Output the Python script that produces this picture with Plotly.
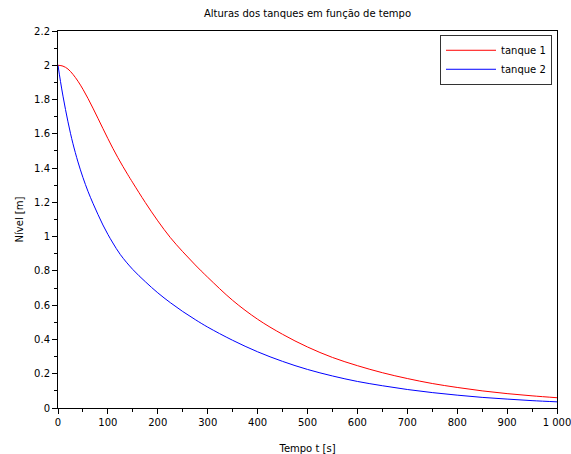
import plotly.graph_objects as go

t1 = [0, 10, 20, 30, 40, 50, 60, 70, 80, 90, 100, 110, 120, 130, 140, 150, 175, 200, 225,
      250, 275, 300, 350, 400, 450, 500, 550, 600, 650, 700, 750, 800, 850, 900, 950, 1000]
tanque1 = [2.0, 1.995, 1.978, 1.947, 1.907, 1.86, 1.807, 1.75, 1.691, 1.631, 1.572, 1.515,
           1.461, 1.41, 1.361, 1.314, 1.199, 1.092, 0.995, 0.912, 0.835, 0.763, 0.628,
           0.518, 0.43, 0.356, 0.295, 0.247, 0.206, 0.172, 0.143, 0.12, 0.1, 0.084, 0.071,
           0.06]

t2 = [0, 5, 10, 15, 20, 25, 30, 40, 50, 60, 70, 80, 90, 100, 110, 125, 150, 175, 200, 225,
      250, 275, 300, 350, 400, 450, 500, 550, 600, 650, 700, 750, 800, 850, 900, 950, 1000]
tanque2 = [2.0, 1.905, 1.82, 1.742, 1.67, 1.603, 1.542, 1.436, 1.345, 1.265, 1.195, 1.13,
           1.068, 1.013, 0.963, 0.895, 0.808, 0.737, 0.672, 0.615, 0.563, 0.516, 0.472,
           0.395, 0.328, 0.272, 0.225, 0.187, 0.155, 0.13, 0.108, 0.09, 0.075, 0.062, 0.052,
           0.043, 0.036]

x_ticks = [0, 100, 200, 300, 400, 500, 600, 700, 800, 900, 1000]
x_labels = ["0", "100", "200", "300", "400", "500", "600", "700", "800", "900", "1 000"]
y_ticks = [0, 0.2, 0.4, 0.6, 0.8, 1.0, 1.2, 1.4, 1.6, 1.8, 2.0, 2.2]
y_labels = ["0", "0.2", "0.4", "0.6", "0.8", "1", "1.2", "1.4", "1.6", "1.8", "2", "2.2"]

font = "DejaVu Sans, Verdana, sans-serif"

fig = go.Figure()
fig.add_trace(go.Scatter(x=t1, y=tanque1, mode="lines", name="tanque 1",
                         line=dict(color="#ff0000", width=1, shape="spline")))
fig.add_trace(go.Scatter(x=t2, y=tanque2, mode="lines", name="tanque 2",
                         line=dict(color="#0000ff", width=1, shape="spline")))

fig.update_layout(
    width=571, height=454,
    margin=dict(l=58, r=14, t=31, b=46),
    paper_bgcolor="white", plot_bgcolor="white",
    font=dict(family=font, size=10, color="black"),
    title=dict(text="Alturas dos tanques em função de tempo", x=0.5, xref="paper",
               xanchor="center", y=1 - 13 / 454, yref="container", yanchor="middle",
               font=dict(family=font, size=10, color="black")),
    showlegend=True,
    legend=dict(x=0.99, y=0.99, xanchor="right", yanchor="top",
                bordercolor="#333333", borderwidth=1, bgcolor="white",
                font=dict(family=font, size=10, color="black"),
                itemwidth=50, tracegroupgap=0),
    xaxis=dict(range=[0, 1000], tickmode="array", tickvals=x_ticks, ticktext=x_labels,
               showgrid=False, zeroline=False, showline=True, linecolor="black",
               linewidth=1, mirror=True, ticks="outside", ticklen=5, tickcolor="black",
               minor=dict(dtick=50, ticks="outside", ticklen=3, tickcolor="black"),
               automargin=False, ticklabeloverflow="allow",
               title=dict(text="Tempo t [s]", standoff=17, font=dict(size=10)),
               tickfont=dict(size=10)),
    yaxis=dict(range=[0, 2.2], tickmode="array", tickvals=y_ticks, ticktext=y_labels,
               showgrid=False, zeroline=False, showline=True, linecolor="black",
               linewidth=1, mirror=True, ticks="outside", ticklen=5, tickcolor="black",
               minor=dict(dtick=0.1, ticks="outside", ticklen=3, tickcolor="black"),
               automargin=False,
               title=dict(text="Nível [m]", standoff=8, font=dict(size=10)),
               tickfont=dict(size=10)),
)

fig.write_html("out.html", config={"displayModeBar": False},
               post_script="document.body.style.margin='0';document.body.style.overflow='hidden';")
